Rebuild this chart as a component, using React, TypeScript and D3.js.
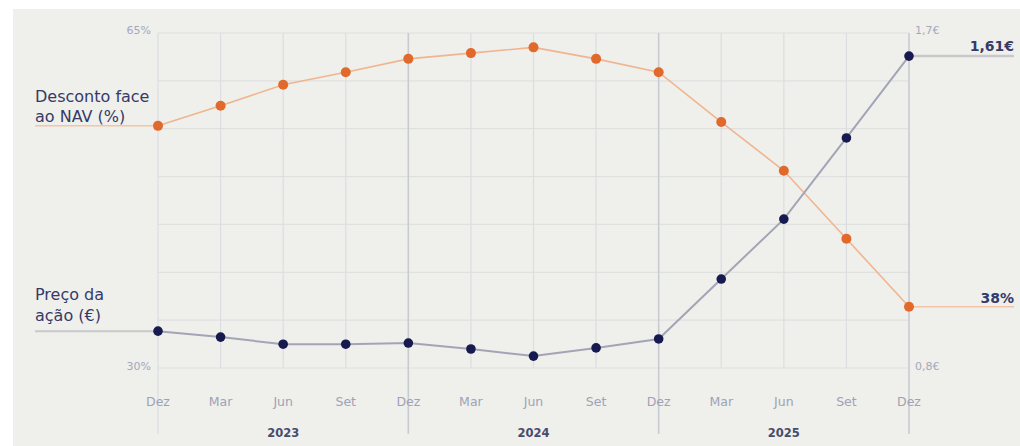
import React from "react";
import * as d3 from "d3";

const months = ["Dez", "Mar", "Jun", "Set", "Dez", "Mar", "Jun", "Set", "Dez", "Mar", "Jun", "Set", "Dez"];
const years = [
  { label: "2023", at: 2 },
  { label: "2024", at: 6 },
  { label: "2025", at: 10 },
];
const discount = [55.3, 57.4, 59.6, 60.9, 62.3, 62.9, 63.5, 62.3, 60.9, 55.7, 50.6, 43.5, 36.4];
const price = [0.899, 0.883, 0.864, 0.864, 0.867, 0.851, 0.832, 0.854, 0.878, 1.039, 1.2, 1.418, 1.638];
const leftDomain = [30, 65];
const rightDomain = [0.8, 1.7];
const leftTickLabels = ["30%", "65%"];
const rightTickLabels = ["0,8€", "1,7€"];
const gridCount = 8;
const endDiscountLabel = "38%";
const endPriceLabel = "1,61€";
const discountLabel = ["Desconto face", "ao NAV (%)"];
const priceLabel = ["Preço da", "ação (€)"];

const W = 1020;
const H = 446;
const FONT = "'DejaVu Sans', Verdana, sans-serif";

export default function App() {
  const x = d3.scaleLinear().domain([0, months.length - 1]).range([158, 909]);
  const yL = d3.scaleLinear().domain(leftDomain).range([368, 33]);
  const yR = d3.scaleLinear().domain(rightDomain).range([368, 33]);
  const gridYs = d3.range(gridCount).map((i) => yL(leftDomain[0] + (i * (leftDomain[1] - leftDomain[0])) / (gridCount - 1)));

  const lineL = d3
    .line<number>()
    .x((_, i) => x(i))
    .y((d) => yL(d));
  const lineR = d3
    .line<number>()
    .x((_, i) => x(i))
    .y((d) => yR(d));

  const last = months.length - 1;
  const navy = "#353a68";
  const orange = "#e2692c";
  const dotNavy = "#161a4e";
  const tickCol = "#a4a8bd";

  return (
    <svg
      width={W}
      height={H}
      style={{ position: "fixed", left: 0, top: 0, background: "#ffffff" }}
      fontFamily={FONT}
    >
      <rect x={13} y={9} width={W - 13} height={H - 9} fill="#efefeb" />
      {/* horizontal grid */}
      {gridYs.map((gy, i) => (
        <line key={"h" + i} x1={x(0)} x2={x(last)} y1={gy} y2={gy} stroke="#dfe0e0" strokeWidth={1.2} />
      ))}
      {/* vertical grid */}
      {months.map((m, i) => {
        const isDez = m === "Dez";
        return (
          <line
            key={"v" + i}
            x1={x(i)}
            x2={x(i)}
            y1={33}
            y2={isDez ? 434 : 368}
            stroke={isDez && i !== 0 ? "#c9cbd3" : "#dcdde2"}
            strokeWidth={isDez && i !== 0 ? 1.6 : 1.2}
          />
        );
      })}
      {/* axis labels */}
      <text x={151} y={34} textAnchor="end" fontSize={11} fill={tickCol}>{leftTickLabels[1]}</text>
      <text x={151} y={370} textAnchor="end" fontSize={11} fill={tickCol}>{leftTickLabels[0]}</text>
      <text x={915} y={34} textAnchor="start" fontSize={11} fill={tickCol}>{rightTickLabels[1]}</text>
      <text x={915} y={370} textAnchor="start" fontSize={11} fill={tickCol}>{rightTickLabels[0]}</text>
      {/* month labels */}
      {months.map((m, i) => (
        <text key={"m" + i} x={x(i)} y={406} textAnchor="middle" fontSize={12.5} fill="#9ea2b8">
          {m}
        </text>
      ))}
      {years.map((yy) => (
        <text key={yy.label} x={x(yy.at)} y={437} textAnchor="middle" fontSize={11.5} fill="#474c6e" fontWeight="bold">
          {yy.label}
        </text>
      ))}
      {/* leader lines */}
      <line x1={35} x2={x(0)} y1={yL(discount[0])} y2={yL(discount[0])} stroke="#f3c5a6" strokeWidth={1.5} />
      <line x1={35} x2={x(0)} y1={yR(price[0])} y2={yR(price[0])} stroke="#c9c9cc" strokeWidth={2} />
      <line x1={x(last)} x2={1014} y1={yL(discount[last])} y2={yL(discount[last])} stroke="#f3c5a6" strokeWidth={1.5} />
      <line x1={x(last)} x2={1014} y1={yR(price[last])} y2={yR(price[last])} stroke="#c9c9cc" strokeWidth={2.5} />
      {/* series lines */}
      <path d={lineL(discount) || ""} fill="none" stroke="#f0b58f" strokeWidth={1.6} />
      <path d={lineR(price) || ""} fill="none" stroke="#a3a5b6" strokeWidth={2} />
      {discount.map((d, i) => (
        <circle key={"o" + i} cx={x(i)} cy={yL(d)} r={5} fill={orange} />
      ))}
      {price.map((d, i) => (
        <circle key={"b" + i} cx={x(i)} cy={yR(d)} r={4.8} fill={dotNavy} />
      ))}
      {/* series labels */}
      <text x={35} y={102} fontSize={16} fill={navy}>{discountLabel[0]}</text>
      <text x={35} y={122} fontSize={16} fill={navy}>{discountLabel[1]}</text>
      <text x={35} y={300} fontSize={16} fill={navy}>{priceLabel[0]}</text>
      <text x={35} y={321} fontSize={16} fill={navy}>{priceLabel[1]}</text>
      {/* end labels */}
      <text x={1014} y={51} textAnchor="end" fontSize={14} fontWeight="bold" fill={navy}>{endPriceLabel}</text>
      <text x={1014} y={303} textAnchor="end" fontSize={14} fontWeight="bold" fill={navy}>{endDiscountLabel}</text>
    </svg>
  );
}
